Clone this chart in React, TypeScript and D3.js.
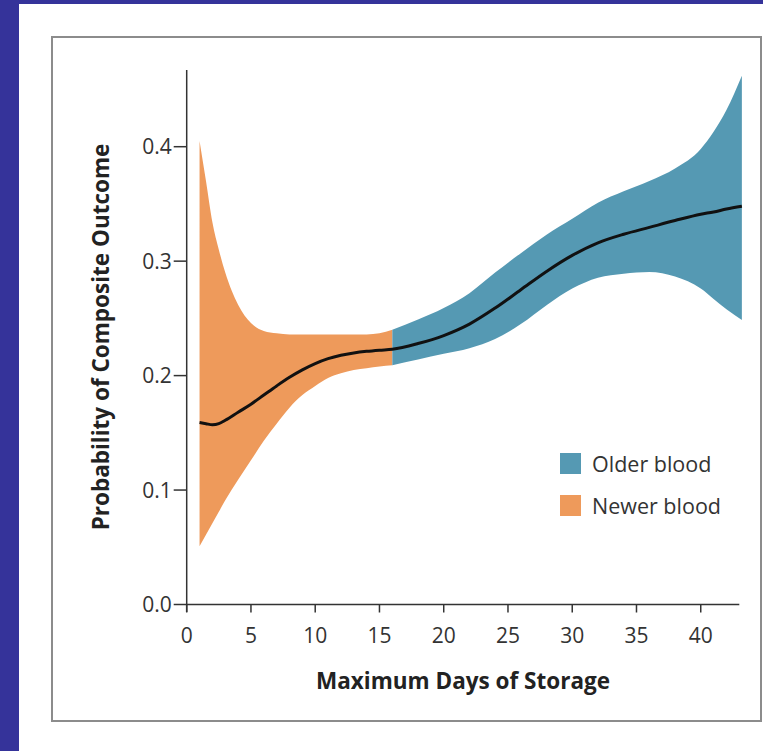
import React from 'react';
import * as d3 from 'd3';

// Newer blood (days 1-16)
const newerDays = [1, 1.5, 2, 2.5, 3, 4, 5, 6, 7, 8, 9, 10, 11, 12, 13, 14, 15, 16];
const newerUpper = [0.405, 0.37, 0.334, 0.31, 0.29, 0.262, 0.246, 0.239, 0.237, 0.236, 0.236, 0.236, 0.236, 0.236, 0.236, 0.236, 0.237, 0.24];
const newerLower = [0.051, 0.061, 0.071, 0.081, 0.091, 0.109, 0.126, 0.143, 0.158, 0.172, 0.183, 0.191, 0.198, 0.202, 0.205, 0.2065, 0.208, 0.209];
const newerMean = [0.159, 0.158, 0.157, 0.158, 0.161, 0.168, 0.175, 0.183, 0.191, 0.1985, 0.205, 0.2105, 0.2148, 0.2178, 0.2198, 0.2212, 0.2222, 0.223];

// Older blood (days 16-43)
const olderDays = [16, 18, 20, 22, 24, 26, 28, 30, 32, 34, 36, 38, 40, 41, 42, 43.2];
const olderUpper = [0.24, 0.249, 0.259, 0.272, 0.29, 0.307, 0.323, 0.337, 0.351, 0.361, 0.37, 0.381, 0.398, 0.413, 0.432, 0.462];
const olderLower = [0.209, 0.214, 0.219, 0.224, 0.232, 0.245, 0.2615, 0.276, 0.2855, 0.289, 0.2905, 0.2865, 0.276, 0.267, 0.258, 0.2485];
const olderMean = [0.223, 0.228, 0.235, 0.245, 0.259, 0.275, 0.291, 0.305, 0.316, 0.3235, 0.3295, 0.3355, 0.341, 0.343, 0.3455, 0.348];

const xTicks = [0, 5, 10, 15, 20, 25, 30, 35, 40];
const yTicks = [0, 0.1, 0.2, 0.3, 0.4];
const legendItems = [
  { label: 'Older blood', color: '#5599b3' },
  { label: 'Newer blood', color: '#ee9a5b' },
];

const W = 763;
const H = 751;
const font = '"Open Sans", "DejaVu Sans", sans-serif';
const ink = '#333';

const App = () => {
  const x = d3.scaleLinear().domain([0, 43]).range([186.7, 739.3]);
  const y = d3.scaleLinear().domain([0, 0.4]).range([604.5, 146.7]);

  const newer = newerDays.map((d, i) => ({ d, lo: newerLower[i], hi: newerUpper[i], m: newerMean[i] }));
  const older = olderDays.map((d, i) => ({ d, lo: olderLower[i], hi: olderUpper[i], m: olderMean[i] }));

  const area = d3.area<any>()
    .x(p => x(p.d))
    .y0(p => y(p.lo))
    .y1(p => y(p.hi))
    .curve(d3.curveMonotoneX);

  const line = d3.line<any>()
    .x(p => x(p.d))
    .y(p => y(p.m))
    .curve(d3.curveMonotoneX);

  const meanPts = newer.concat(older.slice(1));

  return (
    <svg width={W} height={H} style={{ position: 'absolute', left: 0, top: 0, display: 'block' }}>
      <rect x={0} y={0} width={W} height={H} fill="#35339a" />
      <rect x={19} y={4} width={W - 19} height={H - 4} fill="#fff" />
      <rect x={52} y={37} width={709} height={684} fill="none" stroke="#8c8c8c" strokeWidth={2} />

      <path d={area(newer) || ''} fill="#ee9a5b" />
      <path d={area(older) || ''} fill="#5599b3" />
      <path d={line(meanPts) || ''} fill="none" stroke="#111" strokeWidth={3} />

      {/* axes */}
      <line x1={x(0)} x2={x(0)} y1={70} y2={612} stroke={ink} strokeWidth={1.5} />
      <line x1={x(0)} x2={x(43)} y1={y(0)} y2={y(0)} stroke={ink} strokeWidth={1.5} />

      {yTicks.map(t => (
        <g key={'y' + t}>
          <line x1={x(0) - 13} x2={x(0)} y1={y(t)} y2={y(t)} stroke={ink} strokeWidth={1.5} />
          <text x={x(0) - 15} y={y(t)} dy="0.36em" textAnchor="end" fontFamily={font} fontSize={21} fill={ink}>
            {t.toFixed(1)}
          </text>
        </g>
      ))}

      {xTicks.map(t => (
        <g key={'x' + t}>
          <line x1={x(t)} x2={x(t)} y1={y(0)} y2={y(0) + 8} stroke={ink} strokeWidth={1.5} />
          <text x={x(t)} y={y(0) + 38} textAnchor="middle" fontFamily={font} fontSize={21} fill={ink}>
            {t}
          </text>
        </g>
      ))}

      <text x={463} y={689} textAnchor="middle" fontFamily={font} fontSize={22.5} fontWeight={700} fill="#222">
        Maximum Days of Storage
      </text>
      <text transform="translate(109,337) rotate(-90)" textAnchor="middle" fontFamily={font} fontSize={22.5} fontWeight={700} fill="#222">
        Probability of Composite Outcome
      </text>

      {legendItems.map((it, i) => (
        <g key={it.label} transform={`translate(560,${453 + i * 42})`}>
          <rect width={21} height={21} fill={it.color} />
          <text x={32} y={19} fontFamily={font} fontSize={21.5} fill={ink}>{it.label}</text>
        </g>
      ))}
    </svg>
  );
};

export default App;
